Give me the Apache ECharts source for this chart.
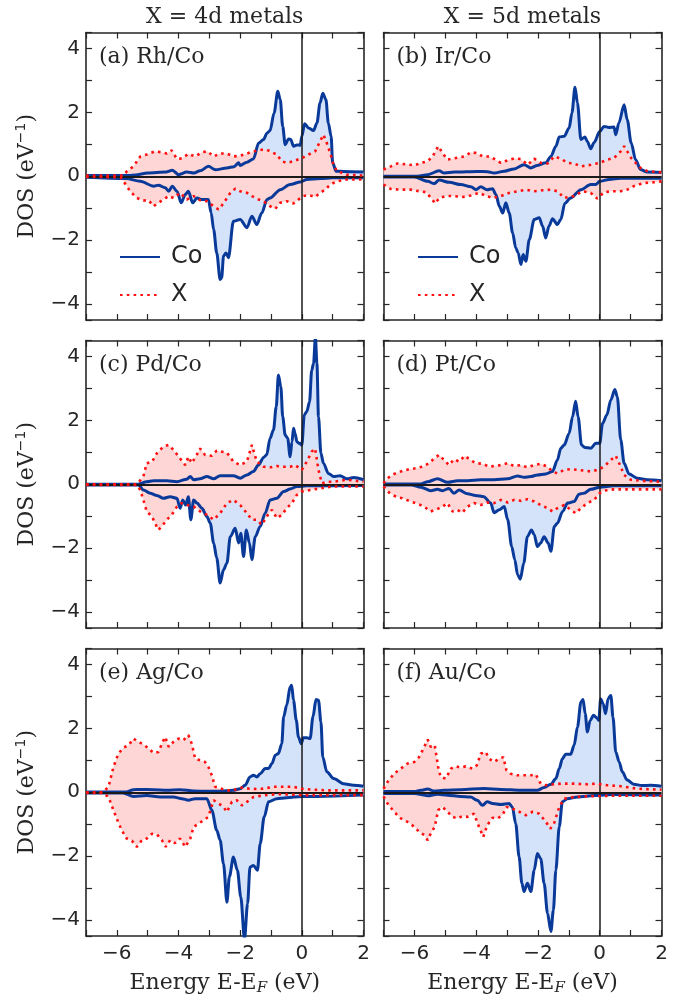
<!DOCTYPE html>
<html>
<head>
<meta charset="utf-8">
<script src="https://cdn.jsdelivr.net/npm/echarts@6/dist/echarts.min.js"></script>
<style>
html,body{margin:0;padding:0;background:#fff;}
#chart{width:682px;height:999px;}
</style>
</head>
<body>
<div id="chart"></div>
<script>
// ---------- data: [energy (eV), DOS (1/eV)] ----------
// (a) Rh/Co
const rhCoUp = [[-7,0.02],[-5.6,0.02],[-5.4,0.04],[-5.0,0.1],[-4.4,0.13],[-4.2,0.19],[-4.0,0.05],[-3.73,0.13],[-3.5,0.1],[-3.3,0.17],[-3.03,0.31],[-2.8,0.2],[-2.43,0.26],[-2.2,0.3],[-2.05,0.42],[-2.0,0.34],[-1.78,0.44],[-1.57,0.54],[-1.4,1.04],[-1.24,1.15],[-1.13,1.35],[-1.03,1.43],[-0.9,1.98],[-0.78,2.66],[-0.7,2.4],[-0.62,1.56],[-0.54,0.99],[-0.43,1.17],[-0.36,1.15],[-0.27,0.94],[-0.16,0.98],[-0.05,0.97],[0,1.25],[0.09,1.64],[0.22,1.51],[0.38,1.43],[0.49,1.67],[0.59,2.29],[0.68,2.6],[0.78,2.4],[0.86,1.67],[0.95,1.25],[1.0,0.42],[1.11,0.16],[1.35,0.15],[2,0.13]];
const rhCoDn = [[-7,-0.03],[-5.7,-0.07],[-5.24,-0.16],[-4.8,-0.31],[-4.65,-0.28],[-4.43,-0.36],[-4.32,-0.47],[-4.2,-0.31],[-4.05,-0.47],[-3.91,-0.83],[-3.78,-0.57],[-3.68,-0.47],[-3.54,-0.83],[-3.4,-0.68],[-3.24,-0.73],[-3.03,-0.73],[-2.94,-1.15],[-2.86,-1.67],[-2.76,-2.4],[-2.65,-3.23],[-2.6,-3.18],[-2.54,-2.5],[-2.46,-2.4],[-2.38,-2.55],[-2.22,-1.41],[-2.0,-1.35],[-1.78,-1.61],[-1.62,-1.25],[-1.46,-1.51],[-1.3,-1.15],[-1.13,-0.73],[-1.03,-0.68],[-0.7,-0.42],[-0.38,-0.26],[-0.05,-0.18],[0.16,-0.1],[0.6,-0.07],[1.0,-0.05],[2,-0.05]];
const rhXUp = [[-7,0.02],[-5.8,0.02],[-5.68,0.15],[-5.46,0.31],[-5.24,0.62],[-5.03,0.68],[-4.76,0.78],[-4.54,0.75],[-4.38,0.71],[-4.22,0.81],[-4.05,0.54],[-3.89,0.56],[-3.68,0.7],[-3.46,0.62],[-3.24,0.75],[-3.06,0.78],[-2.86,0.62],[-2.65,0.71],[-2.43,0.71],[-2.22,0.62],[-2.0,0.64],[-1.78,0.71],[-1.57,0.78],[-1.3,0.83],[-1.13,0.83],[-0.97,0.75],[-0.81,0.68],[-0.65,0.47],[-0.49,0.42],[-0.27,0.47],[0,0.57],[0.22,0.68],[0.43,0.78],[0.59,1.09],[0.7,1.3],[0.81,1.04],[0.92,0.73],[1.03,0.36],[1.14,0.16],[1.46,0.05],[2,0.02]];
const rhXDn = [[-7,-0.02],[-5.88,-0.03],[-5.78,-0.16],[-5.57,-0.47],[-5.35,-0.68],[-5.14,-0.76],[-4.97,-0.75],[-4.81,-0.94],[-4.65,-0.83],[-4.49,-0.73],[-4.32,-0.62],[-4.16,-0.68],[-3.95,-0.52],[-3.73,-0.73],[-3.51,-0.62],[-3.3,-0.75],[-3.08,-0.78],[-2.86,-0.94],[-2.7,-1.04],[-2.54,-0.85],[-2.32,-0.52],[-2.16,-0.39],[-2.0,-0.47],[-1.78,-0.52],[-1.62,-0.62],[-1.4,-0.73],[-1.24,-0.78],[-1.03,-0.94],[-0.86,-1.02],[-0.7,-0.83],[-0.49,-0.78],[-0.27,-0.85],[-0.11,-0.73],[0.05,-0.62],[0.22,-0.59],[0.43,-0.65],[0.59,-0.52],[0.76,-0.42],[0.92,-0.26],[1.14,-0.16],[1.46,-0.1],[2,-0.1]];
// (b) Ir/Co
const irCoUp = [[-7,0.0],[-5.9,0.0],[-5.57,0.05],[-5.2,0.17],[-5.03,0.1],[-4.7,0.13],[-3.95,0.15],[-3.63,0.14],[-3.42,0.1],[-3.09,0.16],[-2.77,0.23],[-2.45,0.36],[-2.23,0.26],[-2.02,0.34],[-1.75,0.42],[-1.58,0.62],[-1.42,0.94],[-1.31,1.23],[-1.15,1.25],[-0.99,1.51],[-0.9,1.98],[-0.8,2.79],[-0.72,2.29],[-0.61,1.15],[-0.48,1.23],[-0.4,1.09],[-0.29,0.86],[-0.18,1.06],[0,1.4],[0.14,1.56],[0.3,1.53],[0.46,1.54],[0.52,1.3],[0.62,1.67],[0.79,2.24],[0.89,1.77],[1.02,1.04],[1.16,0.52],[1.32,0.21],[1.54,0.13],[2,0.12]];
const irCoDn = [[-7,-0.02],[-6.0,-0.02],[-5.57,-0.16],[-5.36,-0.23],[-5.2,-0.12],[-4.87,-0.19],[-4.5,-0.26],[-4.17,-0.33],[-4.0,-0.42],[-3.85,-0.33],[-3.65,-0.42],[-3.47,-0.39],[-3.36,-0.57],[-3.25,-0.94],[-3.14,-1.15],[-3.04,-0.83],[-2.93,-1.15],[-2.82,-1.77],[-2.72,-2.24],[-2.64,-2.4],[-2.55,-2.76],[-2.48,-2.45],[-2.39,-2.66],[-2.28,-1.98],[-2.12,-1.35],[-1.96,-1.3],[-1.85,-1.56],[-1.75,-1.93],[-1.64,-1.56],[-1.53,-1.33],[-1.37,-1.51],[-1.26,-1.35],[-1.13,-0.85],[-0.94,-0.68],[-0.61,-0.42],[-0.29,-0.26],[-0.13,-0.26],[0,-0.16],[0.3,-0.1],[0.68,-0.06],[2,-0.06]];
const irXUp = [[-7,0.21],[-6.76,0.31],[-6.55,0.4],[-6.22,0.37],[-6.0,0.34],[-5.78,0.42],[-5.57,0.47],[-5.41,0.62],[-5.23,0.94],[-5.09,0.73],[-4.93,0.52],[-4.66,0.57],[-4.39,0.62],[-4.17,0.75],[-4.0,0.73],[-3.79,0.62],[-3.57,0.62],[-3.41,0.54],[-3.2,0.42],[-2.98,0.5],[-2.76,0.56],[-2.55,0.54],[-2.33,0.36],[-2.12,0.55],[-1.9,0.42],[-1.69,0.4],[-1.47,0.62],[-1.26,0.55],[-1.04,0.42],[-0.83,0.4],[-0.61,0.31],[-0.29,0.36],[0,0.42],[0.25,0.52],[0.46,0.57],[0.68,0.78],[0.79,0.94],[0.89,0.78],[1.02,0.57],[1.16,0.42],[1.32,0.26],[1.54,0.16],[2,0.12]];
const irXDn = [[-7,-0.26],[-6.76,-0.4],[-6.44,-0.42],[-6.11,-0.42],[-5.84,-0.47],[-5.62,-0.5],[-5.46,-0.68],[-5.33,-0.85],[-5.19,-0.68],[-4.98,-0.62],[-4.71,-0.62],[-4.44,-0.65],[-4.17,-0.6],[-3.9,-0.52],[-3.68,-0.62],[-3.47,-0.68],[-3.2,-0.62],[-2.93,-0.52],[-2.66,-0.47],[-2.39,-0.42],[-2.12,-0.47],[-1.85,-0.44],[-1.58,-0.42],[-1.37,-0.47],[-1.15,-0.68],[-0.83,-0.62],[-0.56,-0.47],[-0.29,-0.52],[-0.08,-0.7],[0.14,-0.5],[0.41,-0.47],[0.68,-0.47],[0.89,-0.42],[1.1,-0.31],[1.43,-0.21],[1.75,-0.19],[2,-0.16]];
// (c) Pd/Co
const pdCoUp = [[-7,0.0],[-5.3,0.0],[-5.03,0.08],[-4.81,0.11],[-4.38,0.11],[-4.05,0.08],[-3.73,0.16],[-3.62,0.24],[-3.51,0.14],[-3.3,0.17],[-3.08,0.24],[-2.86,0.17],[-2.65,0.27],[-2.22,0.27],[-2.0,0.19],[-1.78,0.29],[-1.57,0.4],[-1.41,0.6],[-1.24,0.84],[-1.14,0.92],[-1.03,1.44],[-0.92,1.7],[-0.83,2.43],[-0.76,3.42],[-0.68,3.05],[-0.62,2.11],[-0.54,1.54],[-0.46,1.44],[-0.38,0.86],[-0.32,1.33],[-0.27,1.75],[-0.22,1.6],[-0.16,1.33],[-0.08,1.28],[0,1.23],[0.08,2.17],[0.16,2.27],[0.25,2.58],[0.32,3.57],[0.38,3.78],[0.44,4.6],[0.49,3.78],[0.54,2.11],[0.62,0.97],[0.7,0.66],[0.86,0.34],[1.03,0.24],[1.24,0.27],[1.46,0.17],[1.68,0.21],[2,0.14]];
const pdCoDn = [[-7,-0.02],[-5.3,-0.02],[-5.14,-0.18],[-4.92,-0.28],[-4.7,-0.35],[-4.49,-0.44],[-4.27,-0.39],[-4.05,-0.44],[-3.95,-0.75],[-3.86,-0.49],[-3.77,-0.65],[-3.68,-0.39],[-3.6,-1.11],[-3.51,-0.49],[-3.4,-0.59],[-3.24,-0.75],[-3.08,-1.01],[-2.97,-1.22],[-2.86,-1.84],[-2.76,-2.31],[-2.65,-3.09],[-2.54,-2.68],[-2.43,-2.47],[-2.32,-1.64],[-2.16,-1.38],[-2.05,-1.84],[-1.98,-1.53],[-1.89,-2.26],[-1.8,-1.43],[-1.7,-1.84],[-1.62,-2.36],[-1.51,-1.64],[-1.35,-1.32],[-1.19,-0.91],[-1.03,-0.49],[-0.81,-0.44],[-0.59,-0.23],[-0.38,-0.15],[-0.16,-0.07],[0.16,-0.05],[2,-0.04]];
const pdXUp = [[-7,0.0],[-5.35,0.0],[-5.14,0.24],[-5.03,0.66],[-4.86,0.7],[-4.7,0.97],[-4.49,1.18],[-4.32,1.23],[-4.16,1.07],[-3.95,0.81],[-3.78,0.6],[-3.68,0.86],[-3.57,0.66],[-3.41,0.92],[-3.3,1.12],[-3.14,0.92],[-2.92,0.89],[-2.76,1.05],[-2.59,1.02],[-2.43,0.99],[-2.22,0.71],[-2.0,0.6],[-1.78,0.71],[-1.62,1.23],[-1.46,0.71],[-1.24,0.55],[-1.03,0.53],[-0.81,0.57],[-0.59,0.55],[-0.38,0.55],[-0.22,0.6],[0,0.45],[0.16,0.71],[0.32,1.02],[0.43,1.12],[0.54,0.45],[0.65,0.03],[0.86,0.08],[1.03,0.08],[1.46,0.14],[2,0.08]];
const pdXDn = [[-7,-0.02],[-5.35,-0.02],[-5.24,-0.18],[-5.14,-0.49],[-5.03,-0.85],[-4.86,-1.01],[-4.76,-1.22],[-4.65,-1.43],[-4.54,-1.32],[-4.38,-1.11],[-4.22,-0.96],[-4.05,-0.7],[-3.89,-0.59],[-3.73,-0.65],[-3.51,-0.7],[-3.3,-0.85],[-3.08,-0.96],[-2.86,-1.11],[-2.65,-0.91],[-2.43,-0.59],[-2.22,-0.49],[-2.0,-0.65],[-1.78,-0.91],[-1.62,-1.11],[-1.46,-1.11],[-1.3,-1.27],[-1.14,-1.01],[-0.97,-0.8],[-0.81,-1.06],[-0.65,-0.96],[-0.49,-0.75],[-0.32,-0.59],[-0.16,-0.33],[0,-0.23],[0.27,-0.18],[0.59,-0.13],[1.0,-0.07],[2,-0.07]];
// (d) Pt/Co
const ptCoUp = [[-7,0.01],[-5.8,0.01],[-5.57,0.08],[-5.25,0.17],[-4.92,0.06],[-4.6,0.11],[-4.28,0.11],[-3.85,0.14],[-3.42,0.14],[-2.98,0.17],[-2.66,0.26],[-2.45,0.22],[-2.23,0.24],[-2.02,0.29],[-1.75,0.32],[-1.53,0.4],[-1.37,0.76],[-1.26,1.13],[-1.15,1.23],[-0.99,1.59],[-0.88,2.11],[-0.78,2.6],[-0.7,2.11],[-0.59,1.23],[-0.48,1.15],[-0.29,1.13],[-0.13,1.28],[0,1.28],[0.09,1.9],[0.23,2.17],[0.36,2.64],[0.49,2.97],[0.57,2.74],[0.68,1.39],[0.79,0.66],[0.95,0.32],[1.22,0.19],[1.54,0.14],[2,0.11]];
const ptCoDn = [[-7,-0.02],[-6.1,-0.02],[-5.79,-0.09],[-5.47,-0.2],[-5.25,-0.16],[-5.09,-0.2],[-4.88,-0.13],[-4.72,-0.28],[-4.55,-0.18],[-4.28,-0.3],[-4.02,-0.35],[-3.75,-0.39],[-3.53,-0.59],[-3.42,-0.89],[-3.25,-0.8],[-3.09,-0.7],[-2.98,-1.11],[-2.85,-1.95],[-2.75,-2.36],[-2.66,-2.83],[-2.57,-2.97],[-2.46,-2.47],[-2.34,-1.64],[-2.21,-1.43],[-2.12,-1.58],[-2.02,-1.95],[-1.91,-1.84],[-1.8,-1.64],[-1.67,-1.84],[-1.58,-2.1],[-1.47,-1.32],[-1.37,-1.22],[-1.2,-0.85],[-1.04,-0.59],[-0.83,-0.54],[-0.67,-0.31],[-0.51,-0.28],[-0.29,-0.16],[0,-0.09],[0.46,-0.05],[2,-0.05]];
const ptXUp = [[-7,0.03],[-6.87,0.19],[-6.66,0.32],[-6.44,0.4],[-6.17,0.47],[-5.95,0.5],[-5.74,0.55],[-5.52,0.66],[-5.36,0.81],[-5.2,0.92],[-5.04,0.76],[-4.88,0.6],[-4.72,0.78],[-4.55,0.71],[-4.37,0.89],[-4.18,0.76],[-4.02,0.66],[-3.79,0.64],[-3.58,0.55],[-3.42,0.57],[-3.2,0.6],[-2.98,0.66],[-2.77,0.57],[-2.55,0.6],[-2.34,0.53],[-2.12,0.6],[-1.91,0.64],[-1.69,0.55],[-1.53,0.4],[-1.37,0.34],[-1.15,0.45],[-0.94,0.47],[-0.72,0.45],[-0.51,0.43],[-0.29,0.4],[0,0.47],[0.19,0.6],[0.36,0.76],[0.52,0.89],[0.63,0.66],[0.79,0.29],[1.0,0.14],[1.33,0.11],[2,0.08]];
const ptXDn = [[-7,-0.07],[-6.82,-0.26],[-6.6,-0.39],[-6.39,-0.44],[-6.12,-0.54],[-5.9,-0.61],[-5.69,-0.7],[-5.47,-0.85],[-5.31,-0.8],[-5.09,-0.7],[-4.93,-0.59],[-4.77,-0.85],[-4.61,-0.8],[-4.45,-0.89],[-4.28,-0.7],[-4.07,-0.59],[-3.85,-0.65],[-3.64,-0.57],[-3.42,-0.59],[-3.2,-0.49],[-2.98,-0.57],[-2.77,-0.49],[-2.55,-0.52],[-2.34,-0.47],[-2.12,-0.54],[-1.91,-0.65],[-1.69,-0.75],[-1.53,-0.85],[-1.37,-0.75],[-1.15,-0.65],[-0.94,-0.8],[-0.78,-0.91],[-0.61,-0.75],[-0.4,-0.59],[-0.18,-0.49],[0,-0.28],[0.14,-0.2],[0.46,-0.16],[2,-0.16]];
// (e) Ag/Co
const agCoUp = [[-7,0.01],[-5.7,0.01],[-5.46,0.08],[-5.24,0.09],[-4.81,0.08],[-4.38,0.06],[-3.95,0.08],[-3.51,0.04],[-3.08,0.03],[-2.65,0.03],[-2.22,0.06],[-2.0,0.11],[-1.84,0.22],[-1.68,0.48],[-1.57,0.53],[-1.46,0.48],[-1.35,0.58],[-1.19,0.74],[-1.08,0.74],[-0.97,0.9],[-0.86,1.16],[-0.76,1.21],[-0.65,1.52],[-0.59,2.36],[-0.49,2.73],[-0.38,3.3],[-0.33,3.35],[-0.27,2.88],[-0.18,2.26],[-0.11,1.73],[-0.02,1.52],[0.05,1.71],[0.16,1.71],[0.27,1.68],[0.36,2.36],[0.46,2.9],[0.54,2.88],[0.62,2.2],[0.68,1.1],[0.81,0.64],[1.03,0.43],[1.35,0.27],[1.68,0.22],[2,0.19]];
const agCoDn = [[-7,-0.02],[-5.8,-0.02],[-5.46,-0.13],[-5.03,-0.1],[-4.59,-0.15],[-4.16,-0.15],[-3.89,-0.2],[-3.68,-0.25],[-3.46,-0.2],[-3.08,-0.2],[-2.92,-0.56],[-2.76,-1.19],[-2.65,-1.5],[-2.54,-2.24],[-2.43,-3.44],[-2.35,-2.65],[-2.22,-2.03],[-2.09,-2.44],[-1.98,-3.28],[-1.86,-4.6],[-1.76,-3.49],[-1.68,-2.34],[-1.57,-2.29],[-1.44,-2.44],[-1.35,-1.61],[-1.22,-0.77],[-1.08,-0.3],[-0.81,-0.2],[-0.49,-0.17],[0,-0.13],[0.49,-0.13],[2,-0.09]];
const agXUp = [[-7,0.0],[-6.45,0.0],[-6.27,0.17],[-6.11,0.79],[-5.95,1.21],[-5.78,1.4],[-5.62,1.47],[-5.46,1.68],[-5.3,1.58],[-5.14,1.5],[-4.97,1.37],[-4.81,1.23],[-4.65,1.26],[-4.51,1.58],[-4.43,1.73],[-4.32,1.42],[-4.16,1.58],[-4.0,1.68],[-3.84,1.63],[-3.68,1.79],[-3.57,1.52],[-3.46,1.05],[-3.3,1.0],[-3.14,0.95],[-3.03,0.79],[-2.92,0.53],[-2.81,0.17],[-2.65,0.12],[-2.43,0.06],[-2.22,0.06],[-2.0,0.15],[-1.68,0.11],[-1.35,0.1],[-0.92,0.17],[-0.59,0.17],[-0.27,0.17],[0,0.11],[0.38,0.08],[0.81,0.06],[2,0.06]];
const agXDn = [[-7,-0.02],[-6.45,-0.02],[-6.27,-0.15],[-6.11,-0.56],[-5.98,-0.88],[-5.84,-1.19],[-5.68,-1.45],[-5.51,-1.52],[-5.35,-1.71],[-5.19,-1.5],[-5.03,-1.45],[-4.86,-1.3],[-4.7,-1.32],[-4.54,-1.5],[-4.41,-1.71],[-4.27,-1.5],[-4.11,-1.59],[-3.95,-1.45],[-3.78,-1.71],[-3.62,-1.45],[-3.51,-1.09],[-3.35,-0.98],[-3.19,-0.88],[-3.03,-0.77],[-2.86,-0.25],[-2.7,-0.35],[-2.54,-0.46],[-2.43,-0.62],[-2.27,-0.3],[-2.11,-0.25],[-1.95,-0.41],[-1.78,-0.3],[-1.57,-0.15],[-1.24,-0.1],[-0.81,-0.06],[-0.38,-0.07],[0,-0.09],[2,-0.09]];
// (f) Au/Co
const auCoUp = [[-7,0.02],[-6.0,0.02],[-5.79,0.06],[-5.57,0.1],[-5.36,0.04],[-5.04,0.06],[-4.5,0.08],[-3.75,0.12],[-3.2,0.09],[-2.56,0.06],[-2.02,0.06],[-1.8,0.15],[-1.58,0.25],[-1.42,0.43],[-1.31,0.74],[-1.21,1.05],[-1.1,1.19],[-0.94,1.19],[-0.83,1.47],[-0.72,2.04],[-0.61,2.82],[-0.54,2.9],[-0.47,2.46],[-0.4,1.89],[-0.31,2.25],[-0.2,2.41],[-0.1,2.33],[-0.03,2.25],[0.03,2.93],[0.11,2.77],[0.19,2.46],[0.27,2.93],[0.36,3.03],[0.43,2.35],[0.52,1.26],[0.63,0.95],[0.73,0.64],[0.89,0.38],[1.1,0.25],[1.37,0.21],[1.64,0.22],[2,0.19]];
const auCoDn = [[-7,-0.04],[-6.0,-0.04],[-5.57,-0.11],[-5.25,-0.06],[-4.93,-0.09],[-4.5,-0.13],[-4.18,-0.15],[-3.96,-0.25],[-3.8,-0.41],[-3.64,-0.3],[-3.47,-0.35],[-3.2,-0.38],[-2.94,-0.35],[-2.83,-0.46],[-2.72,-0.98],[-2.61,-2.02],[-2.52,-2.85],[-2.45,-3.11],[-2.34,-2.85],[-2.23,-3.11],[-2.12,-2.44],[-2.02,-1.92],[-1.91,-2.08],[-1.8,-2.85],[-1.69,-3.79],[-1.58,-4.36],[-1.5,-3.69],[-1.42,-2.44],[-1.31,-1.08],[-1.21,-0.3],[-1.05,-0.2],[-0.72,-0.15],[-0.18,-0.1],[0.46,-0.07],[2,-0.09]];
const auXUp = [[-7,0.11],[-6.87,0.32],[-6.66,0.58],[-6.44,0.74],[-6.22,0.9],[-6.0,0.95],[-5.85,1.1],[-5.68,1.42],[-5.57,1.65],[-5.47,1.42],[-5.34,1.47],[-5.23,0.79],[-5.15,0.48],[-4.98,0.43],[-4.82,0.74],[-4.66,0.81],[-4.5,0.77],[-4.34,0.81],[-4.12,0.74],[-3.98,0.84],[-3.85,1.21],[-3.69,1.26],[-3.58,1.05],[-3.42,0.95],[-3.26,1.05],[-3.12,1.1],[-3.02,0.69],[-2.88,0.58],[-2.67,0.53],[-2.45,0.53],[-2.23,0.53],[-2.07,0.56],[-1.91,0.27],[-1.75,0.22],[-1.48,0.25],[-1.26,0.27],[-0.83,0.27],[-0.4,0.25],[-0.13,0.27],[0.25,0.22],[0.68,0.19],[1.22,0.11],[2,0.08]];
const auXDn = [[-7,-0.13],[-6.87,-0.35],[-6.66,-0.61],[-6.44,-0.82],[-6.22,-0.93],[-6.0,-1.08],[-5.85,-1.24],[-5.68,-1.34],[-5.57,-1.5],[-5.47,-1.29],[-5.34,-1.08],[-5.23,-0.56],[-5.09,-0.46],[-4.93,-0.61],[-4.77,-0.77],[-4.61,-0.82],[-4.45,-0.75],[-4.28,-0.77],[-4.07,-0.67],[-3.91,-1.08],[-3.77,-1.4],[-3.64,-1.03],[-3.47,-0.8],[-3.31,-0.82],[-3.15,-0.72],[-3.01,-0.46],[-2.83,-0.51],[-2.61,-0.61],[-2.39,-0.72],[-2.17,-0.61],[-1.96,-0.67],[-1.74,-0.93],[-1.6,-1.14],[-1.48,-0.98],[-1.31,-0.46],[-1.15,-0.2],[-0.83,-0.15],[-0.18,-0.12],[0.46,-0.11],[2,-0.11]];

const panelLabels = ['(a) Rh/Co','(b) Ir/Co','(c) Pd/Co','(d) Pt/Co','(e) Ag/Co','(f) Au/Co'];
const columnTitles = ['X = 4d metals','X = 5d metals'];
const legendNames = ['Co','X'];
const xTicks = { min: -7, max: 2, step: 1 };
const yTicks = { min: -4.5, max: 4.5 };

const panelData = [
  [rhCoUp, rhCoDn, rhXUp, rhXDn],
  [irCoUp, irCoDn, irXUp, irXDn],
  [pdCoUp, pdCoDn, pdXUp, pdXDn],
  [ptCoUp, ptCoDn, ptXUp, ptXDn],
  [agCoUp, agCoDn, agXUp, agXDn],
  [auCoUp, auCoDn, auXUp, auXDn]
];

// ---------- layout / style ----------
const colLeft = [86, 383.5];
const colWidth = [277.5, 278];
const rowTop = [32.5, 340.5, 648.5];
const rowHeight = 287.5;
const ink = '#262626';
const coColor = '#0a3a99';
const xColor = '#ff1010';
const coFill = '#d5e3fa';
const xFill = '#ffd6d6';
const sans = 'DejaVu Sans';
const serif = 'DejaVu Serif';

function fmt(v) {
  if (Math.abs(v % 2) > 1e-9) return '';
  return String(v).replace('-', '\u2212');
}

const grids = [], xAxes = [], yAxes = [], series = [], graphics = [];
for (let i = 0; i < 6; i++) {
  const r = Math.floor(i / 2), c = i % 2;
  const bottomRow = r === 2, leftCol = c === 0;
  grids.push({ left: colLeft[c], top: rowTop[r], width: colWidth[c], height: rowHeight, containLabel: false, outerBoundsMode: 'none' });
  const axLine = { show: true, onZero: false, lineStyle: { color: ink, width: 1.6 } };
  const axTick = { show: true, inside: true, length: 6, lineStyle: { color: ink, width: 1.2 } };
  const xBase = { type: 'value', gridIndex: i, min: xTicks.min, max: xTicks.max, interval: xTicks.step,
    splitLine: { show: false }, axisLine: axLine, axisTick: axTick };
  xAxes.push(Object.assign({}, xBase, {
    position: 'bottom',
    axisLabel: { show: bottomRow, formatter: fmt, fontFamily: sans, fontSize: 20, color: ink, margin: 8 },
    name: bottomRow ? '{a|Energy E-E}{s|F}{a| (eV)}' : '',
    nameLocation: 'middle', nameGap: 34,
    nameTextStyle: { color: ink, fontFamily: serif, fontSize: 22,
      rich: { a: { fontFamily: serif, fontSize: 22, color: ink, lineHeight: 26 },
              s: { fontFamily: serif, fontSize: 15, fontStyle: 'italic', color: ink, verticalAlign: 'bottom', lineHeight: 15 } } }
  }));
  xAxes.push(Object.assign({}, xBase, { position: 'top', axisLabel: { show: false } }));
  const yBase = { type: 'value', gridIndex: i, min: yTicks.min, max: yTicks.max, splitNumber: 9, minInterval: 1, maxInterval: 1,
    splitLine: { show: false }, axisLine: axLine, axisTick: axTick };
  yAxes.push(Object.assign({}, yBase, {
    position: 'left',
    axisLabel: { show: leftCol, formatter: fmt, fontFamily: sans, fontSize: 20, color: ink, margin: 6 },
    name: leftCol ? '{a|DOS (eV}{s|\u22121}{a|)}' : '',
    nameLocation: 'middle', nameGap: 46, nameRotate: 90,
    nameTextStyle: { color: ink, fontFamily: serif, fontSize: 22,
      rich: { a: { fontFamily: serif, fontSize: 22, color: ink, lineHeight: 26 },
              s: { fontFamily: sans, fontSize: 14, color: ink, verticalAlign: 'top', lineHeight: 14 } } }
  }));
  yAxes.push(Object.assign({}, yBase, { position: 'right', axisLabel: { show: false } }));

  const [coUp, coDn, xUp, xDn] = panelData[i];
  const common = { type: 'line', xAxisIndex: 2 * i, yAxisIndex: 2 * i, symbol: 'none', showSymbol: false, silent: true, animation: false, clip: true };
  const fill = (data, color, z, sm) => Object.assign({}, common, {
    name: 'fill', data, z, smooth: sm, smoothMonotone: 'x',
    lineStyle: { opacity: 0, width: 0 }, areaStyle: { color, opacity: 1 }
  });
  series.push(fill(coUp, coFill, 1, 0.3));
  series.push(fill(coDn, coFill, 1, 0.3));
  series.push(fill(xUp, xFill, 2, false));
  series.push(fill(xDn, xFill, 2, false));
  const coLine = (data) => Object.assign({}, common, { name: legendNames[0], data, z: 4, smooth: 0.3, smoothMonotone: 'x',
    lineStyle: { color: coColor, width: 3, join: 'round' }, itemStyle: { color: coColor } });
  const xLine = (data) => Object.assign({}, common, { name: legendNames[1], data, z: 5, smooth: false,
    lineStyle: { color: xColor, width: 2.6, type: [2.6, 4.2], cap: 'butt' }, itemStyle: { color: xColor } });
  series.push(coLine(coUp));
  series.push(coLine(coDn));
  series.push(xLine(xUp));
  series.push(xLine(xDn));
  // zero reference lines
  series.push(Object.assign({}, common, { name: 'zero', data: [], z: 6,
    markLine: { silent: true, symbol: ['none', 'none'], animation: false, label: { show: false },
      data: [
        { yAxis: 0, lineStyle: { color: '#1a1a1a', width: 2, type: 'solid' } },
        { xAxis: 0, lineStyle: { color: '#1a1a1a', width: 1.5, type: 'solid' } }
      ] } }));

  graphics.push({ type: 'text', x: colLeft[c] + 13, y: rowTop[r] + 25, silent: true,
    style: { text: panelLabels[i], font: '22px "' + serif + '"', fill: ink, textAlign: 'left', textVerticalAlign: 'middle' } });
}
columnTitles.forEach((t, c) => {
  graphics.push({ type: 'text', x: colLeft[c] + colWidth[c] / 2, y: 17, silent: true,
    style: { text: t, font: '22px "' + serif + '"', fill: ink, textAlign: 'center', textVerticalAlign: 'middle' } });
});

const legendBase = { orient: 'vertical', data: legendNames, itemWidth: 40, itemHeight: 14, itemGap: 10, selectedMode: false,
  padding: 0, itemStyle: { opacity: 0 },
  textStyle: { fontFamily: sans, fontSize: 24, color: ink, lineHeight: 28, padding: [0, 0, 0, 6] } };
const legends = [
  Object.assign({}, legendBase, { left: 119, top: 243 }),
  Object.assign({}, legendBase, { left: 417, top: 243 })
];

const chart = echarts.init(document.getElementById('chart'), null, { renderer: 'canvas' });
chart.setOption({
  animation: false,
  backgroundColor: '#ffffff',
  grid: grids,
  xAxis: xAxes,
  yAxis: yAxes,
  legend: legends,
  series: series,
  graphic: graphics
});
</script>
</body>
</html>
